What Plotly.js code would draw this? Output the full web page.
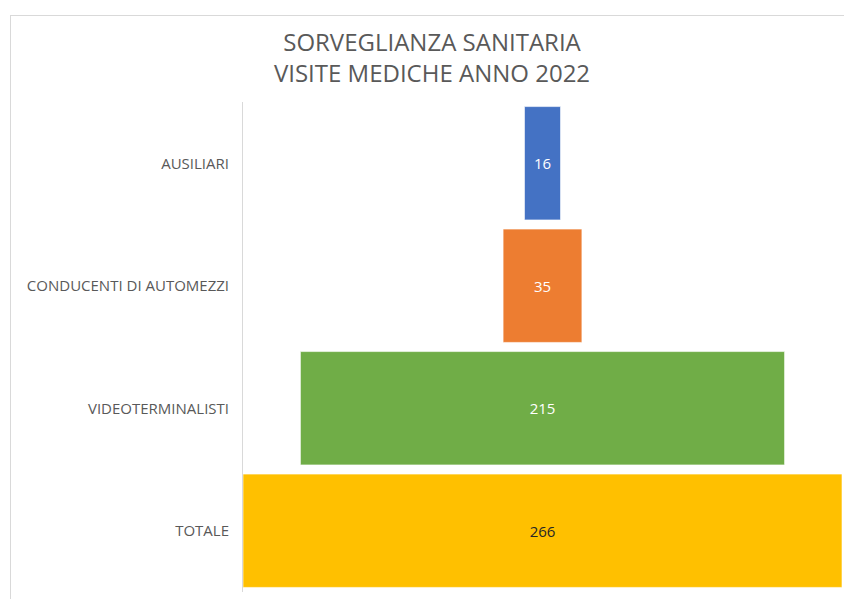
<!DOCTYPE html>
<html>
<head>
<meta charset="utf-8">
<script src="https://cdn.plot.ly/plotly-3.0.1.min.js"></script>
<style>
  html, body { margin: 0; padding: 0; background: #ffffff; }
  #wrap { position: relative; width: 844px; height: 599px; overflow: hidden; }
  #frame { position: absolute; left: 10px; top: 15px; width: 900px; height: 700px; border: 1px solid #d9d9d9; box-sizing: border-box; }
  #chart { position: absolute; left: 0; top: 0; width: 844px; height: 599px; }
</style>
</head>
<body>
<div id="wrap">
  <div id="frame"></div>
  <div id="chart"></div>
</div>
<script>
const categories = ["AUSILIARI", "CONDUCENTI DI AUTOMEZZI", "VIDEOTERMINALISTI", "TOTALE"];
const values = [16, 35, 215, 266];
const barColors = ["#4472C4", "#ED7D31", "#70AD47", "#FFC000"];
const labelColors = ["#ffffff", "#ffffff", "#ffffff", "#262626"];
const titleText = "SORVEGLIANZA SANITARIA<br>VISITE MEDICHE ANNO 2022";

const fontFamily = "'Open Sans', Lato, 'Liberation Sans', sans-serif";

const trace = {
  type: "funnel",
  y: categories,
  x: values,
  orientation: "h",
  marker: { color: barColors, line: { color: "rgba(255,255,255,0.6)", width: 1 } },
  connector: { visible: false },
  textinfo: "value",
  textposition: "inside",
  insidetextanchor: "middle",
  insidetextfont: { color: labelColors, size: 15, family: fontFamily },
  hoverinfo: "y+x"
};

const maxVal = Math.max(...values);

const layout = {
  width: 844,
  height: 599,
  paper_bgcolor: "rgba(0,0,0,0)",
  plot_bgcolor: "rgba(0,0,0,0)",
  margin: { l: 243, r: 2, t: 102, b: 7 },
  showlegend: false,
  funnelgap: 0.075,
  title: {
    text: titleText,
    font: { family: fontFamily, size: 24, color: "#595959" },
    x: 432 / 844,
    xanchor: "center",
    xref: "container",
    y: 1 - 51 / 599,
    yanchor: "top",
    yref: "container"
  },
  xaxis: {
    visible: false,
    range: [-maxVal / 2, maxVal / 2],
    fixedrange: true
  },
  yaxis: {
    type: "category",
    autorange: "reversed",
    showline: true,
    linecolor: "#d9d9d9",
    linewidth: 1,
    showgrid: false,
    zeroline: false,
    ticks: "",
    ticklabelstandoff: 10,
    tickfont: { family: fontFamily, size: 15, color: "#595959" }
  }
};

Plotly.newPlot("chart", [trace], layout, { displayModeBar: false, responsive: false });
</script>
</body>
</html>
